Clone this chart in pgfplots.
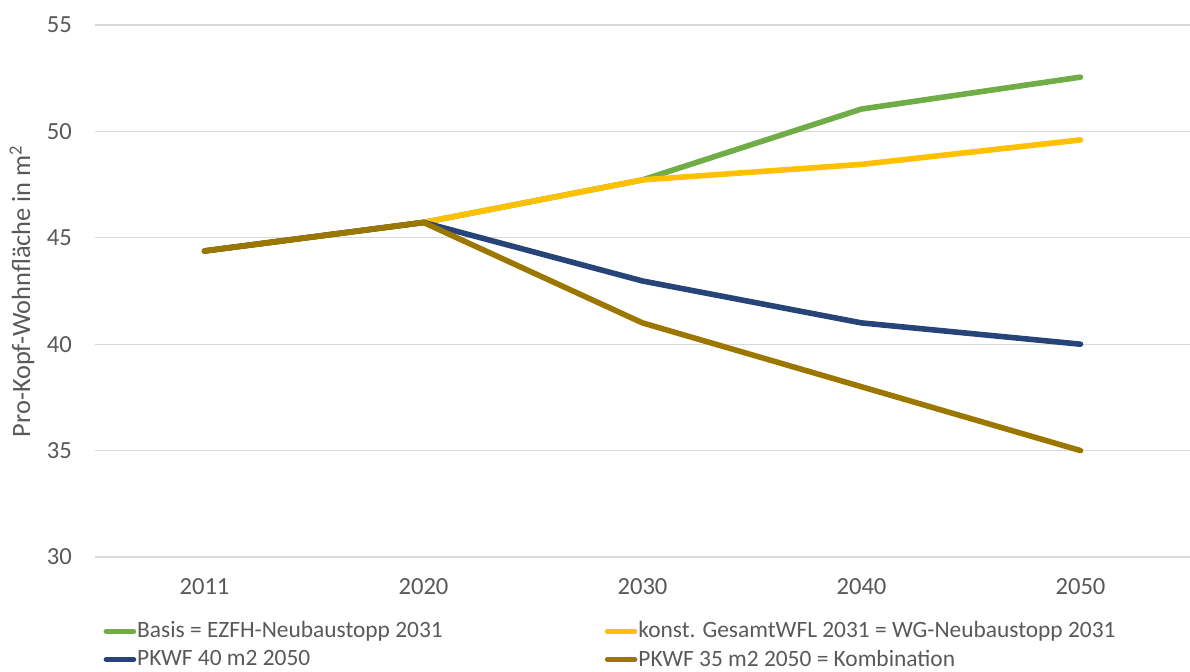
\documentclass[border=0pt]{standalone}
\usepackage{fontspec}
\setmainfont{Carlito}
\usepackage{pgfplots}
\pgfplotsset{compat=1.18}
\definecolor{cgreen}{HTML}{70AD47}
\definecolor{cyellow}{HTML}{FFC000}
\definecolor{cblue}{HTML}{264478}
\definecolor{cbrown}{HTML}{9C7700}
\definecolor{ctext}{HTML}{595959}
\definecolor{cgrid}{HTML}{D9D9D9}
\begin{document}
\begin{tikzpicture}
\useasboundingbox (0,0) rectangle (595pt,336pt);
\begin{axis}[
  at={(47.5pt,57.5pt)}, anchor=south west,
  scale only axis, width=547.5pt, height=266pt,
  xmin=-0.5, xmax=4.5, ymin=30, ymax=55,
  xtick={0,1,2,3,4}, xticklabels={2011,2020,2030,2040,2050},
  ytick={30,35,40,45,50,55},
  /pgf/number format/assume math mode=true,
  ymajorgrids, grid style={cgrid, line width=0.6pt},
  axis line style={draw=none},
  major tick length=0pt,
  tick label style={font=\fontsize{12.3}{14}\selectfont, text=ctext},
  xticklabel style={yshift=-7pt},
  yticklabel style={xshift=-8pt},
  ylabel={Pro-Kopf-Wohnfläche in m\textsuperscript{2}},
  every axis y label/.style={at={([xshift=-36.5pt]rel axis cs:0,0.5)}, rotate=90, anchor=center,
    font=\fontsize{13.2}{15}\selectfont, text=ctext},
  legend columns=2,
  legend cell align=left,
  legend style={at={(rel axis cs:0.0075,-0.119)}, anchor=north west, draw=none, fill=none,
    font=\fontsize{11.7}{14}\selectfont, text=ctext, inner sep=0pt, row sep=3.5pt,
    /tikz/column 2/.style={column sep=80.5pt},
    nodes={inner sep=0.5pt}},
  legend image code/.code={\draw[#1, line width=2.8pt] (0pt,0pt) -- (13.5pt,0pt);},
  every axis plot/.append style={line width=2.8pt, line cap=round, line join=round, mark=none},
]
\addplot[cgreen] coordinates {(0,44.38) (1,45.72) (2,47.72) (3,51.05) (4,52.55)};
\addlegendentry{Basis = EZFH-Neubaustopp 2031}
\addplot[cyellow] coordinates {(0,44.38) (1,45.72) (2,47.72) (3,48.45) (4,49.6)};
\addlegendentry{konst. GesamtWFL 2031 = WG-Neubaustopp 2031}
\addplot[cblue] coordinates {(0,44.38) (1,45.72) (2,42.97) (3,41.0) (4,40.0)};
\addlegendentry{PKWF 40 m2 2050}
\addplot[cbrown] coordinates {(0,44.38) (1,45.72) (2,41.0) (3,38.0) (4,35.0)};
\addlegendentry{PKWF 35 m2 2050 = Kombination}
\end{axis}
\end{tikzpicture}
\end{document}
